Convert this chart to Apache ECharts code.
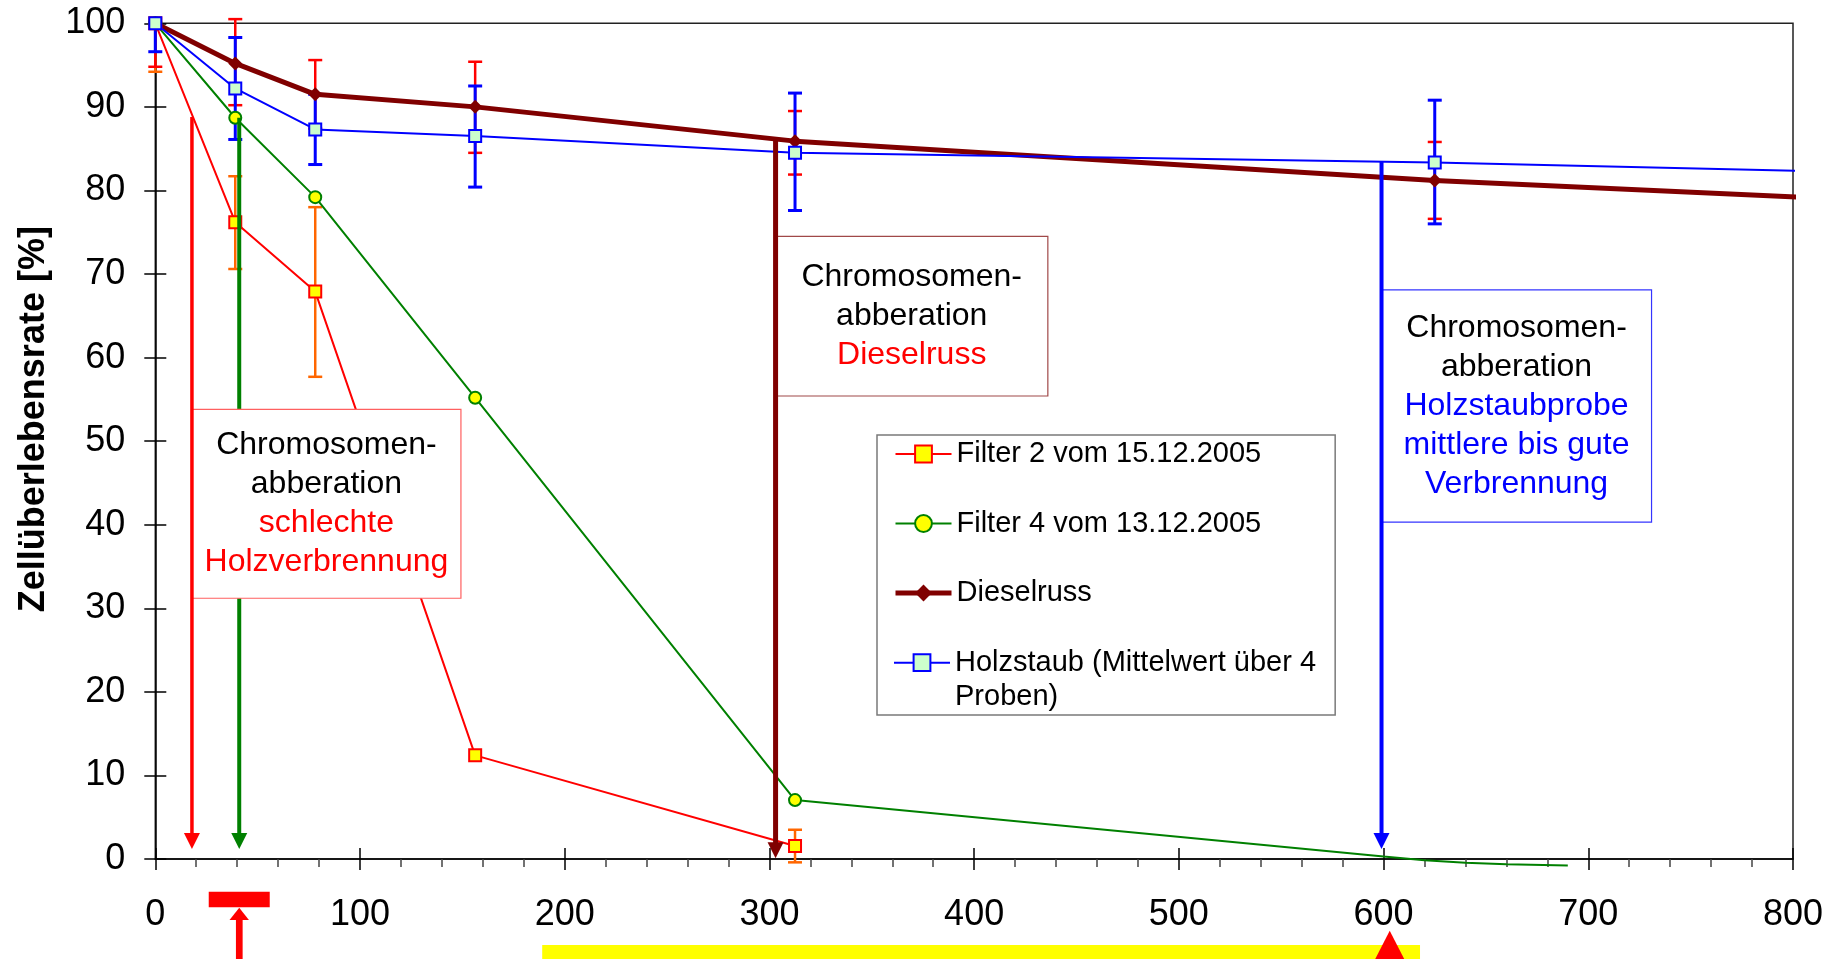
<!DOCTYPE html>
<html>
<head>
<meta charset="utf-8">
<title>Zellüberlebensrate</title>
<script src="https://cdn.jsdelivr.net/npm/echarts@6/dist/echarts.min.js"></script>
<style>
  html, body { margin: 0; padding: 0; background: #ffffff; }
  #chart { width: 1839px; height: 959px; }
</style>
</head>
<body>
<div id="chart"></div>
<script>
// ---- data -----------------------------------------------------------
// dilution steps on the x axis
const doses = [0, 39.0625, 78.125, 156.25, 312.5, 625];

// Filter 2 vom 15.12.2005
const filter2 = [100, 76.2, 67.9, 12.4, 1.55];
const filter2Low = [94.2, 70.6, 57.7, null, -0.4];
const filter2High = [null, 81.7, 78.0, null, 3.5];

// Filter 4 vom 13.12.2005 (plus unmarked run-out of the curve)
const filter4 = [100, 88.7, 79.2, 55.2, 7.05];
const filter4Tail = [[600, 0.3], [620, -0.15], [640, -0.45], [660, -0.62], [690, -0.78]];

// Dieselruss
const diesel = [100, 95.2, 91.5, 90.0, 85.9, 81.2];
const dieselLow = [94.8, 90.2, 87.4, 84.5, 81.9, 76.6];
const dieselHigh = [null, 100.5, 95.6, 95.4, 89.5, 85.8];
const dieselTail = [[804, 79.2]];

// Holzstaub (Mittelwert über 4 Proben)
const holz = [100, 92.2, 87.3, 86.5, 84.5, 83.35];
const holzLow = [96.6, 86.1, 83.1, 80.4, 77.6, 76.0];
const holzHigh = [null, 98.3, 91.5, 92.5, 91.65, 90.8];
const holzTail = [[804, 82.35]];

// onset of chromosome aberration (vertical arrows): x, start value, tip value
const arrowX = [17.9, 41, 303, 599];
const arrowTop = [88.8, 88.7, 86.1, 83.45];
const arrowTip = [1.2, 1.2, 0.1, 1.2];

// axis ranges
const xRange = [0, 800, 100];
const yRange = [0, 100, 10];

// ---- styling --------------------------------------------------------
const FONT = '"Liberation Sans", Arial, Helvetica, sans-serif';
const arrowColors = ['#FF0000', '#008000', '#800000', '#0000FF'];
const arrowWidths = [3.5, 4, 5, 4];

const notes = [
  { x0: 17.9, x1: 149.3, y0: 53.8, y1: 31.2, border: '#FF6060',
    lines: [['Chromosomen-', 'k'], ['abberation', 'k'], ['schlechte', 'r'], ['Holzverbrennung', 'r']] },
  { x0: 303, x1: 436, y0: 74.5, y1: 55.4, border: '#A04848',
    lines: [['Chromosomen-', 'k'], ['abberation', 'k'], ['Dieselruss', 'r']] },
  { x0: 599, x1: 730.9, y0: 68.1, y1: 40.3, border: '#3535FF',
    lines: [['Chromosomen-', 'k'], ['abberation', 'k'], ['Holzstaubprobe', 'b'], ['mittlere bis gute', 'b'], ['Verbrennung', 'b']] }
];

// ---- helpers --------------------------------------------------------
function pts(ys) { return ys.map((y, i) => [doses[i], y]); }
function tail(arr) { return arr.map(p => ({ value: p, symbol: 'none' })); }

function errData(mean, lo, hi) {
  return mean.map((m, i) => [
    doses[i], m,
    lo[i] == null ? m : lo[i],
    hi[i] == null ? m : hi[i],
    lo[i] == null ? 0 : 1,
    hi[i] == null ? 0 : 1
  ]).filter(d => d[4] || d[5]);
}

function errSeries(name, data, color, width) {
  return {
    type: 'custom', name: name, data: data, z: 1, silent: true,
    encode: { x: 0, y: [1, 2, 3] },
    renderItem: function (params, api) {
      const x = api.value(0);
      const pLo = api.coord([x, api.value(2)]);
      const pHi = api.coord([x, api.value(3)]);
      const style = { stroke: color, lineWidth: width };
      const cap = 7;
      const kids = [{ type: 'line', shape: { x1: pLo[0], y1: pLo[1], x2: pHi[0], y2: pHi[1] }, style: style }];
      if (api.value(4)) kids.push({ type: 'line', shape: { x1: pLo[0] - cap, y1: pLo[1], x2: pLo[0] + cap, y2: pLo[1] }, style: style });
      if (api.value(5)) kids.push({ type: 'line', shape: { x1: pHi[0] - cap, y1: pHi[1], x2: pHi[0] + cap, y2: pHi[1] }, style: style });
      return { type: 'group', children: kids };
    }
  };
}

function arrowSeries(name, idx, z) {
  return {
    type: 'custom', name: name, z: z, silent: true,
    data: idx.map(i => [arrowX[i], arrowTop[i], arrowTip[i], i]),
    encode: { x: 0, y: [1, 2] },
    renderItem: function (params, api) {
      const i = api.value(3);
      const x = api.value(0);
      const top = api.coord([x, api.value(1)]);
      const tip = api.coord([x, api.value(2)]);
      const c = arrowColors[i];
      const h = 16, hw = 8;
      return {
        type: 'group', children: [
          { type: 'line', shape: { x1: top[0], y1: top[1], x2: tip[0], y2: tip[1] - h + 1 },
            style: { stroke: c, lineWidth: arrowWidths[i] } },
          { type: 'polygon', shape: { points: [[tip[0] - hw, tip[1] - h], [tip[0] + hw, tip[1] - h], [tip[0], tip[1]]] },
            style: { fill: c } }
        ]
      };
    }
  };
}

const tickStyle = { color: '#000', width: 1.5 };

function xAxisBase(extra) {
  return Object.assign({
    type: 'value', min: xRange[0], max: xRange[1], interval: xRange[2], position: 'bottom',
    splitLine: { show: false }, minorSplitLine: { show: false }
  }, extra);
}
function yAxisBase(extra) {
  return Object.assign({
    type: 'value', min: yRange[0], max: yRange[1], interval: yRange[2], position: 'left',
    splitLine: { show: false }
  }, extra);
}

// ---- chart ----------------------------------------------------------
const chart = echarts.init(document.getElementById('chart'), null, { renderer: 'canvas' });

const NAME_F2 = 'Filter 2 vom 15.12.2005';
const NAME_F4 = 'Filter 4 vom 13.12.2005';
const NAME_D = 'Dieselruss';
const NAME_H = 'Holzstaub (Mittelwert über 4\nProben)';

const legendText = { fontSize: 29, lineHeight: 34, color: '#000', fontFamily: FONT };

chart.setOption({
  animation: false,
  backgroundColor: '#ffffff',
  textStyle: { fontFamily: FONT },
  grid: {
    left: 155.3, right: 46, top: 23.3, bottom: 100,
    show: true, borderColor: '#222', borderWidth: 1.5, backgroundColor: 'transparent',
    outerBoundsMode: 'none'
  },
  xAxis: [
    xAxisBase({
      axisLine: { show: true, lineStyle: tickStyle },
      axisTick: { show: true, inside: false, length: 11, lineStyle: tickStyle },
      minorTick: { show: true, splitNumber: 5, length: 8, lineStyle: { color: '#444', width: 1.5 } },
      axisLabel: { fontSize: 36, color: '#000', fontFamily: FONT, margin: 38.5 }
    }),
    xAxisBase({
      axisLine: { show: false },
      axisTick: { show: true, inside: true, length: 11, lineStyle: tickStyle },
      axisLabel: { show: false }
    })
  ],
  yAxis: [
    yAxisBase({
      axisLine: { show: true, lineStyle: tickStyle },
      axisTick: { show: true, inside: false, length: 11, lineStyle: tickStyle },
      axisLabel: { fontSize: 36, color: '#000', fontFamily: FONT, margin: 30 },
      name: 'Zellüberlebensrate [%]',
      nameLocation: 'middle', nameRotate: 90, nameGap: 103,
      nameTextStyle: { fontSize: 36, fontWeight: 'bold', color: '#000', fontFamily: FONT, padding: [0, 0, 0, 44] }
    }),
    yAxisBase({
      axisLine: { show: false },
      axisTick: { show: true, inside: true, length: 11, lineStyle: tickStyle },
      axisLabel: { show: false }
    })
  ],
  legend: [
    {
      orient: 'vertical', left: 877, top: 435, padding: [2, 74, 105, 16],
      itemGap: 35.5, itemWidth: 56, itemHeight: 21,
      borderColor: '#7a7a7a', borderWidth: 1.5, backgroundColor: '#ffffff',
      selectedMode: false, z: 4,
      textStyle: legendText,
      data: [NAME_F2, NAME_F4, { name: NAME_D, lineStyle: { width: 5 } }]
    },
    {
      // first text line sits level with the icon; the leading blank line balances the block
      orient: 'vertical', left: 893, top: 611.7, padding: 0,
      itemWidth: 56, itemHeight: 21, selectedMode: false, z: 5,
      textStyle: legendText,
      formatter: function (name) { return '\u00a0\n' + name; },
      data: [NAME_H]
    }
  ],
  series: [
    errSeries('err-f2', errData(filter2, filter2Low, filter2High), '#FF6600', 2.5),
    errSeries('err-d', errData(diesel, dieselLow, dieselHigh), '#FF0000', 2.5),
    errSeries('err-h', errData(holz, holzLow, holzHigh), '#0000FF', 3),
    {
      name: NAME_F2, type: 'line', z: 2, clip: false,
      data: pts(filter2),
      symbol: 'rect', symbolSize: 12,
      itemStyle: { color: '#FFFF00', borderColor: '#FF0000', borderWidth: 2 },
      lineStyle: { color: '#FF0000', width: 2 },
      emphasis: { disabled: true }
    },
    {
      name: NAME_F4, type: 'line', z: 2, clip: false,
      data: pts(filter4).concat(tail(filter4Tail)),
      symbol: 'circle', symbolSize: 12,
      itemStyle: { color: '#FFFF00', borderColor: '#008000', borderWidth: 2 },
      lineStyle: { color: '#008000', width: 2 },
      emphasis: { disabled: true }
    },
    {
      name: NAME_D, type: 'line', z: 2, clip: false,
      data: pts(diesel).concat(tail(dieselTail)),
      symbol: 'diamond', symbolSize: 14,
      itemStyle: { color: '#800000' },
      lineStyle: { color: '#800000', width: 5 },
      emphasis: { disabled: true }
    },
    {
      name: NAME_H, type: 'line', z: 2, clip: false,
      data: pts(holz).concat(tail(holzTail)),
      symbol: 'rect', symbolSize: 12,
      itemStyle: { color: '#CCFFCC', borderColor: '#0000FF', borderWidth: 2 },
      lineStyle: { color: '#0000FF', width: 2 },
      emphasis: { disabled: true }
    },
    arrowSeries('arrow-under', [1], 3),
    arrowSeries('arrow-over', [0, 2, 3], 6)
  ]
});

// ---- annotation boxes and marks below the axis -----------------------
function px(x, y) { return chart.convertToPixel({ xAxisIndex: 0, yAxisIndex: 0 }, [x, y]); }

const graphics = [];
notes.forEach(n => {
  const a = px(n.x0, n.y0), b = px(n.x1, n.y1);
  graphics.push({
    type: 'rect', z: 4, silent: true,
    shape: { x: a[0], y: a[1], width: b[0] - a[0], height: b[1] - a[1] },
    style: { fill: '#ffffff', stroke: n.border, lineWidth: 1.2 }
  });
  const rich = {
    k: { fill: '#000000', fontSize: 32, lineHeight: 39, fontFamily: FONT },
    r: { fill: '#FF0000', fontSize: 32, lineHeight: 39, fontFamily: FONT },
    b: { fill: '#0000FF', fontSize: 32, lineHeight: 39, fontFamily: FONT }
  };
  graphics.push({
    type: 'text', z: 5, silent: true,
    x: (a[0] + b[0]) / 2, y: (a[1] + b[1]) / 2,
    style: {
      text: n.lines.map(l => '{' + l[1] + '|' + l[0] + '}').join('\n'),
      rich: rich, align: 'center', verticalAlign: 'middle',
      fontSize: 32, lineHeight: 39, fontFamily: FONT
    }
  });
});

// marks below the x axis
const tX = px(41, 0)[0];
graphics.push({ type: 'rect', z: 5, silent: true,
  shape: { x: tX - 30.5, y: 891.7, width: 61, height: 15.6 }, style: { fill: '#FF0000' } });
graphics.push({ type: 'polygon', z: 5, silent: true,
  shape: { points: [[tX - 9.7, 920], [tX + 9.7, 920], [tX, 907.7]] }, style: { fill: '#FF0000' } });
graphics.push({ type: 'rect', z: 5, silent: true,
  shape: { x: tX - 3.3, y: 919, width: 6.7, height: 40 }, style: { fill: '#FF0000' } });

const yb0 = px(189, 0)[0], yb1 = px(617.8, 0)[0];
graphics.push({ type: 'rect', z: 4, silent: true,
  shape: { x: yb0, y: 945, width: yb1 - yb0, height: 14 }, style: { fill: '#FFFF00' } });
const triX = px(603, 0)[0];
graphics.push({ type: 'polygon', z: 5, silent: true,
  shape: { points: [[triX - 14.5, 959], [triX + 14.5, 959], [triX, 930.7]] }, style: { fill: '#FF0000' } });

chart.setOption({ graphic: graphics });
</script>
</body>
</html>
